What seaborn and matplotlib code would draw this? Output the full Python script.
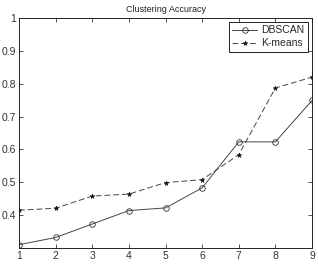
import matplotlib
matplotlib.use("Agg")
import matplotlib.pyplot as plt
import seaborn as sns
import pandas as pd

x_vals = [1, 2, 3, 4, 5, 6, 7, 8, 9]
dbscan = [0.310, 0.332, 0.373, 0.414, 0.422, 0.483, 0.623, 0.623, 0.749]
kmeans = [0.415, 0.421, 0.458, 0.464, 0.499, 0.508, 0.584, 0.787, 0.820]
series_names = ["DBSCAN", "K-means"]
yticks = [0.4, 0.5, 0.6, 0.7, 0.8, 0.9, 1.0]
ytick_labels = ["0.4", "0.5", "0.6", "0.7", "0.8", "0.9", "1"]

sns.set_style("ticks")
plt.rcParams["font.family"] = ["Liberation Sans", "DejaVu Sans"]

df = pd.DataFrame({
    "x": x_vals * 2,
    "y": dbscan + kmeans,
    "method": [series_names[0]] * len(x_vals) + [series_names[1]] * len(x_vals),
})

fig = plt.figure(figsize=(3.18, 2.67), dpi=100)
ax = fig.add_axes([19 / 318, 1 - 248 / 267, (312 - 19) / 318, (248 - 18) / 267])

sns.lineplot(data=df[df.method == "DBSCAN"], x="x", y="y", ax=ax, color="#444444",
             linewidth=0.7, marker="o", markersize=4, markerfacecolor="none",
             markeredgecolor="#333333", markeredgewidth=0.6, label="DBSCAN")
sns.lineplot(data=df[df.method == "K-means"], x="x", y="y", ax=ax, color="#444444",
             linewidth=0.7, linestyle=(0, (6, 3)), marker="*", markersize=3.5,
             markerfacecolor="#111111", markeredgecolor="#111111",
             markeredgewidth=0.4, label="K-means")

ax.set_xlim(1, 9)
ax.set_ylim(0.3, 1.0)
ax.set_xticks(x_vals)
ax.set_yticks(yticks)
ax.set_yticklabels(ytick_labels)
ax.set_xlabel("")
ax.set_ylabel("")
ax.set_title("Clustering Accuracy", fontsize=6.5, color="#222222", pad=4)
ax.tick_params(direction="in", top=True, right=True, length=3, width=0.6,
               labelsize=7.5, colors="#333333", pad=2)
for s in ax.spines.values():
    s.set_linewidth(0.7)
    s.set_color("#222222")
leg = ax.legend(loc="upper right", fontsize=7.5, frameon=True, fancybox=False,
                edgecolor="#222222", framealpha=1, handlelength=2.4,
                handletextpad=0.4, borderpad=0.3, labelspacing=0.3,
                borderaxespad=0.4)
leg.get_frame().set_linewidth(0.7)

fig.savefig("out.png", dpi=100, facecolor="white")
